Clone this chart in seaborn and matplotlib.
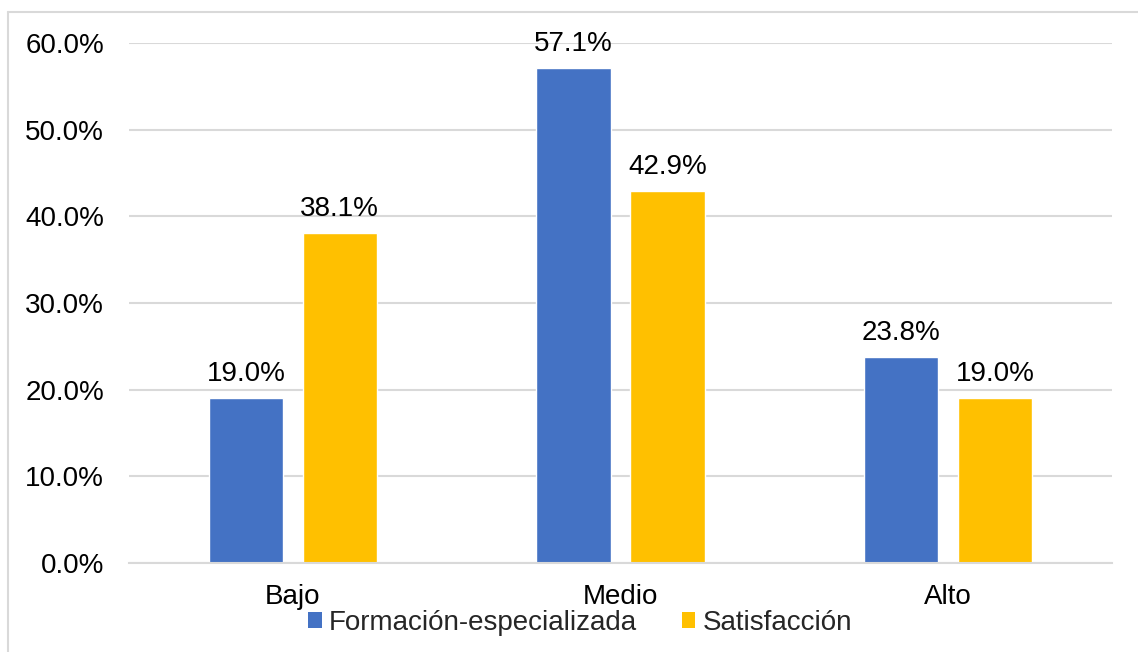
import matplotlib
matplotlib.use("Agg")
import matplotlib.pyplot as plt
from matplotlib.lines import Line2D
from matplotlib.patches import Patch
import seaborn as sns
import pandas as pd

# Niveles y porcentajes por variable
niveles = ["Bajo", "Medio", "Alto"]
formacion = [19.0, 57.1, 23.8]
satisfaccion = [38.1, 42.9, 19.0]
series = ["Formación-especializada", "Satisfacción"]
colores = ["#4472C4", "#FFC000"]
y_ticks = [0, 10, 20, 30, 40, 50, 60]

df = pd.DataFrame({
    "nivel": niveles * 2,
    "valor": formacion + satisfaccion,
    "serie": [series[0]] * 3 + [series[1]] * 3,
})

sns.set_theme(style="white")
plt.rcParams["font.family"] = ["Liberation Sans", "DejaVu Sans"]

W, H = 1138, 652
fig = plt.figure(figsize=(W / 100, H / 100), dpi=100)
ax = fig.add_axes([129 / W, 1 - 563 / H, (1112 - 129) / W, (563 - 43) / H])

sns.barplot(data=df, x="nivel", y="valor", hue="serie", order=niveles,
            hue_order=series, palette=colores, width=0.573, gap=0.21,
            saturation=1, ax=ax, legend=False)

ax.set_ylim(0, 60)
ax.set_xlim(-0.5, 2.5)
ax.set_yticks(y_ticks)
ax.set_yticklabels([f"{v:.1f}%" for v in y_ticks])
ax.yaxis.grid(True, color="#d9d9d9", linewidth=1.5)
ax.set_axisbelow(True)
for s in ["left", "right", "top"]:
    ax.spines[s].set_visible(False)
ax.spines["bottom"].set_color("#d9d9d9")
ax.spines["bottom"].set_linewidth(1.5)
ax.set_xlabel("")
ax.set_ylabel("")
ax.tick_params(axis="y", length=0, pad=18, labelsize=20, labelcolor="black")
ax.tick_params(axis="x", length=0, pad=15, labelsize=20, labelcolor="black")

for cont in ax.containers:
    ax.bar_label(cont, fmt="%.1f%%", padding=8, fontsize=20, color="black")

handles = [Patch(facecolor=c, edgecolor="none") for c in colores]
fig.legend(handles, series, loc="center", bbox_to_anchor=(580 / W, 1 - 623 / H),
           ncol=2, frameon=False, fontsize=20, handlelength=0.5, handleheight=0.5,
           handletextpad=0.25, columnspacing=1.6, borderpad=0, borderaxespad=0)

# Marco del gráfico
fig.add_artist(Line2D([8 / W, 8 / W], [0, 1 - 12 / H], color="#d9d9d9", linewidth=1.5,
                      transform=fig.transFigure))
fig.add_artist(Line2D([8 / W, 1], [1 - 12 / H, 1 - 12 / H], color="#d9d9d9", linewidth=1.5,
                      transform=fig.transFigure))

fig.savefig("out.png", dpi=100)
